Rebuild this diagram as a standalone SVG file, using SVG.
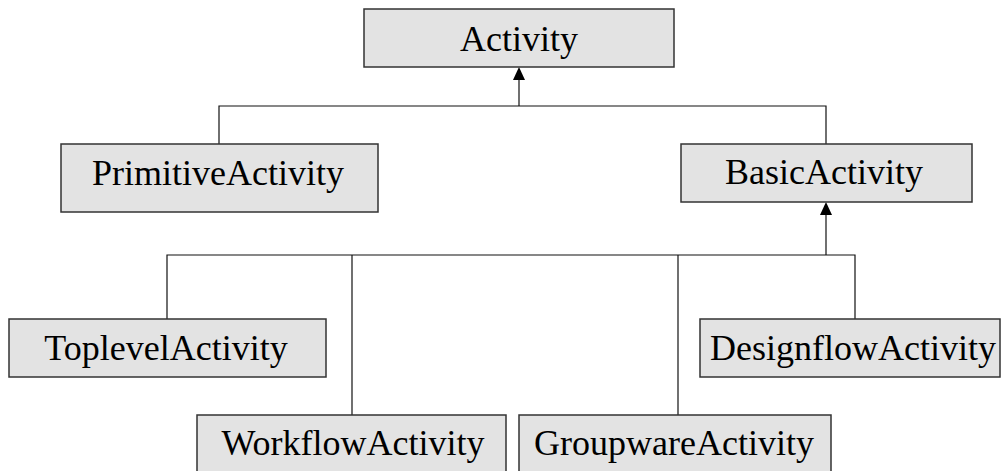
<svg xmlns="http://www.w3.org/2000/svg" width="1002" height="471" viewBox="0 0 1002 471">
  <style>
    .box { fill: #e3e3e3; stroke: #333; stroke-width: 1.5; }
    .lbl { font-family: "Liberation Serif", "Times New Roman", serif; font-size: 36px; fill: #000; text-anchor: middle; }
    .wire { fill: none; stroke: #111; stroke-width: 1.2; }
  </style>
  <rect width="1002" height="471" fill="#fff"/>

  <g id="connectors">
    <!-- Activity inheritance bus -->
    <line class="wire" x1="519" y1="106" x2="519" y2="80"/>
    <path d="M519,67 L525,80 L513,80 Z" fill="#000"/>
    <polyline class="wire" points="219,144 219,106 826,106 826,144"/>
    <!-- BasicActivity inheritance bus -->
    <line class="wire" x1="826" y1="255" x2="826" y2="215"/>
    <path d="M826,202 L832,215 L820,215 Z" fill="#000"/>
    <polyline class="wire" points="167,319 167,255 855,255 855,319"/>
    <line class="wire" x1="352" y1="255" x2="352" y2="415"/>
    <line class="wire" x1="678" y1="255" x2="678" y2="415"/>
  </g>

  <g id="activity">
    <rect class="box" x="364" y="9" width="310" height="58"/>
    <text class="lbl" x="519" y="51">Activity</text>
  </g>
  <g id="primitive-activity">
    <rect class="box" x="61" y="144" width="317" height="68"/>
    <text class="lbl" x="218" y="185">PrimitiveActivity</text>
  </g>
  <g id="basic-activity">
    <rect class="box" x="681" y="144" width="291" height="58"/>
    <text class="lbl" x="824" y="184">BasicActivity</text>
  </g>
  <g id="toplevel-activity">
    <rect class="box" x="9" y="319" width="317" height="58"/>
    <text class="lbl" x="166" y="360">ToplevelActivity</text>
  </g>
  <g id="designflow-activity">
    <rect class="box" x="700" y="319" width="300" height="58"/>
    <text class="lbl" x="853" y="360">DesignflowActivity</text>
  </g>
  <g id="workflow-activity">
    <rect class="box" x="197" y="415" width="309" height="70"/>
    <text class="lbl" x="353" y="455">WorkflowActivity</text>
  </g>
  <g id="groupware-activity">
    <rect class="box" x="519" y="415" width="312" height="70"/>
    <text class="lbl" x="674" y="455">GroupwareActivity</text>
  </g>
</svg>
